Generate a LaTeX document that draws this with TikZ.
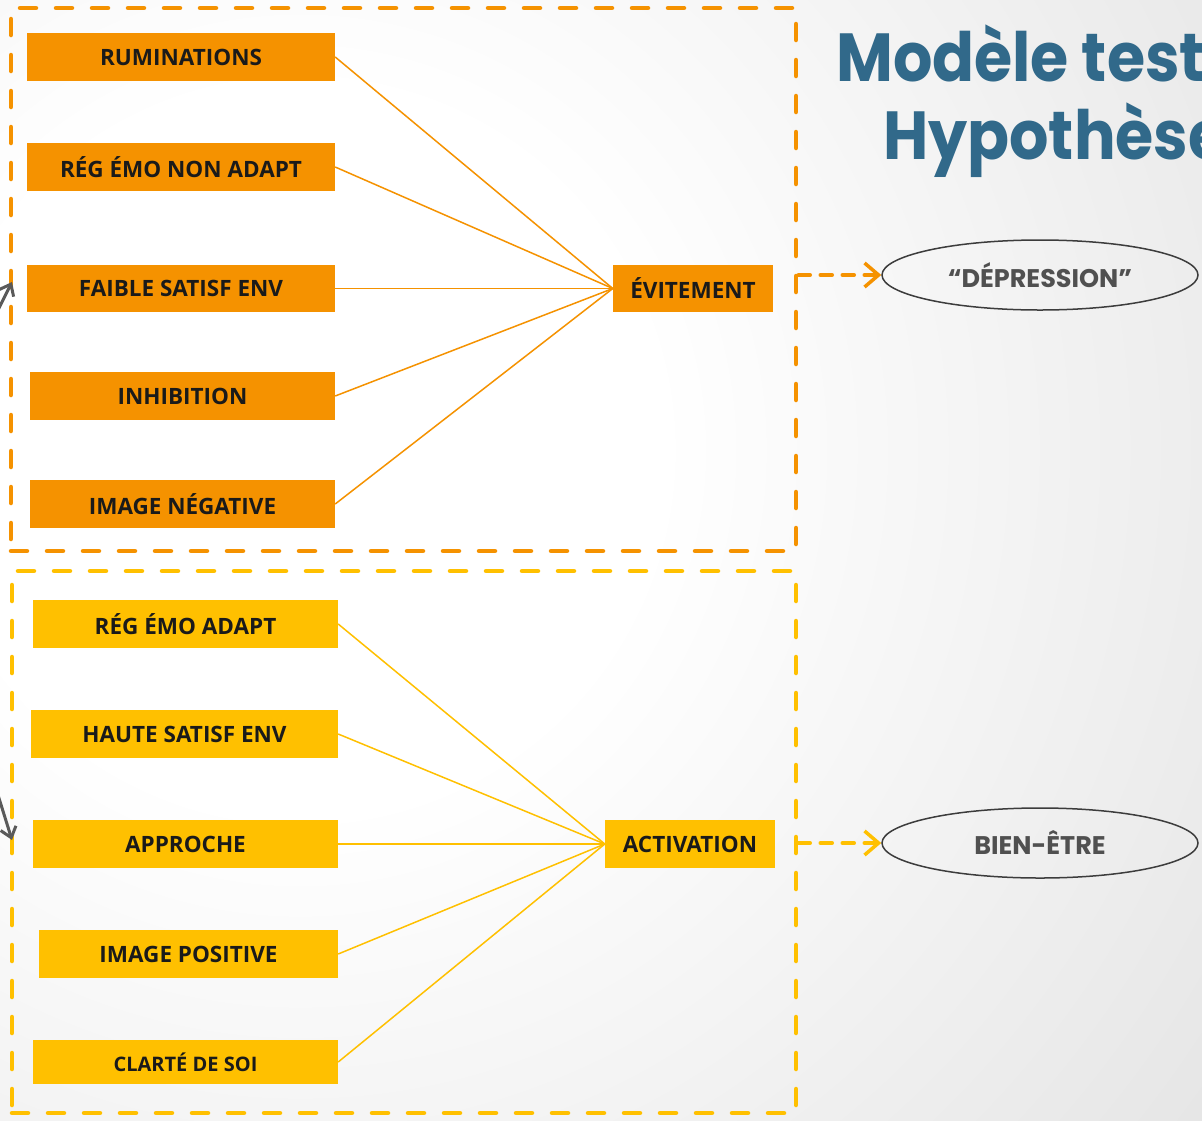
\documentclass[tikz,border=0pt]{standalone}
\usepackage{fontspec}
\setmainfont{Open Sans}
\newfontfamily\gothic{Poppins}
\newfontfamily\gothicnarrow{Poppins}[FakeStretch=0.91]
\usetikzlibrary{shapes.geometric,arrows.meta}

\definecolor{orng}{HTML}{F59200}
\definecolor{ylw}{HTML}{FFC000}
\definecolor{ttl}{HTML}{31698A}
\definecolor{ink}{HTML}{1A1A1A}
\definecolor{ovaltxt}{HTML}{505050}
\definecolor{edgegray}{HTML}{3C3C3C}
\definecolor{grayarrow}{HTML}{5A5A5A}

% soft light backdrop, white towards the left, gray towards the right
\pgfdeclareradialshading{backdrop}{\pgfpoint{0bp}{0bp}}{%
  color(0bp)=(white); color(9bp)=(white); color(38bp)=(black!15); color(50bp)=(black!16)}

\tikzset{
  box/.style={rectangle, inner sep=0pt, text=ink,
    font=\bfseries\fontsize{22.5}{22.5}\selectfont},
  obox/.style={box, fill=orng},
  ybox/.style={box, fill=ylw},
  frame/.style={rectangle, inner sep=0pt, line width=4.5pt,
    dash pattern=on 16pt off 20pt, line cap=round},
  link/.style={line width=1.5pt},
  oval/.style={ellipse, draw=edgegray, line width=1.5pt, inner sep=0pt,
    minimum width=316pt, minimum height=70pt, text=ovaltxt,
    font=\gothic\bfseries\fontsize{25.5}{25.5}\selectfont},
  titletext/.style={anchor=base west, inner sep=0pt, text=ttl,
    font=\gothicnarrow\bfseries\fontsize{68}{68}\selectfont},
  dasharrow/.style={line width=3.5pt, dash pattern=on 12pt off 10pt, line cap=round,
    -{Straight Barb[length=14pt, width=24pt, line width=3.5pt]}},
  grayarrow/.style={draw=grayarrow, line width=3pt, line cap=round,
    -{Straight Barb[length=10pt, width=16pt]}}
}

\begin{document}
\begin{tikzpicture}[x=1pt, y=-1pt]
  \useasboundingbox (0,0) rectangle (1202,1120);
  \clip (0,0) rectangle (1202,1120);
  \shade[shading=backdrop] (-700,-550) rectangle (1300,1450);

  % title
  \node[titletext] (title1) at (836,81) {Modèle test};
  \node[titletext] (title2) at (883,159) {Hypothèse};

  % dashed groups
  \node[frame, draw=orng, minimum width=785pt, minimum height=543pt] (frameA) at (403.5,279.5) {};
  \node[frame, draw=ylw, minimum width=784pt, minimum height=542pt] (frameB) at (404,842) {};

  % avoidance group
  \node[obox, minimum width=308pt, minimum height=48pt] (rum) at (181,57) {RUMINATIONS};
  \node[obox, minimum width=308pt, minimum height=48pt] (regna) at (181,167) {RÉG ÉMO NON ADAPT};
  \node[obox, minimum width=308pt, minimum height=47pt] (faible) at (181,288.5) {FAIBLE SATISF ENV};
  \node[obox, minimum width=305pt, minimum height=48pt] (inhib) at (182.5,396) {INHIBITION};
  \node[obox, minimum width=305pt, minimum height=48pt] (imneg) at (182.5,504) {IMAGE NÉGATIVE};
  \node[obox, minimum width=160pt, minimum height=47pt] (evit) at (693,288.5) {ÉVITEMENT};

  \foreach \n in {rum,regna,faible,inhib,imneg}
    \draw[link, orng] (\n.east) -- (evit.west);

  % activation group
  \node[ybox, minimum width=305pt, minimum height=48pt] (rega) at (185.5,624) {RÉG ÉMO ADAPT};
  \node[ybox, minimum width=307pt, minimum height=48pt] (haute) at (184.5,734) {HAUTE SATISF ENV};
  \node[ybox, minimum width=305pt, minimum height=48pt] (appr) at (185.5,844) {APPROCHE};
  \node[ybox, minimum width=299pt, minimum height=48pt] (impos) at (188.5,954) {IMAGE POSITIVE};
  \node[ybox, minimum width=305pt, minimum height=44pt,
        font=\bfseries\fontsize{20}{20}\selectfont] (clarte) at (185.5,1062) {CLARTÉ DE SOI};
  \node[ybox, minimum width=170pt, minimum height=48pt] (activ) at (690,844) {ACTIVATION};

  \foreach \n in {rega,haute,appr,impos,clarte}
    \draw[link, ylw] (\n.east) -- (activ.west);

  % outcomes
  \node[oval] (dep) at (1040,275) {“DÉPRESSION”};
  \node[oval] (well) at (1040,843) {BIEN-ÊTRE};

  \draw[dasharrow, orng] (frameA.east |- dep.west) -- (dep.west);
  \draw[dasharrow, ylw] (frameB.east |- well.west) -- (well.west);

  % incoming arrows at the left border
  \coordinate (inA) at (-6,318);
  \coordinate (tipA) at (12,282);
  \coordinate (inB) at (-2,795);
  \coordinate (tipB) at (12,840);
  \draw[grayarrow] (inA) -- (tipA);
  \draw[grayarrow] (inB) -- (tipB);
\end{tikzpicture}
\end{document}
